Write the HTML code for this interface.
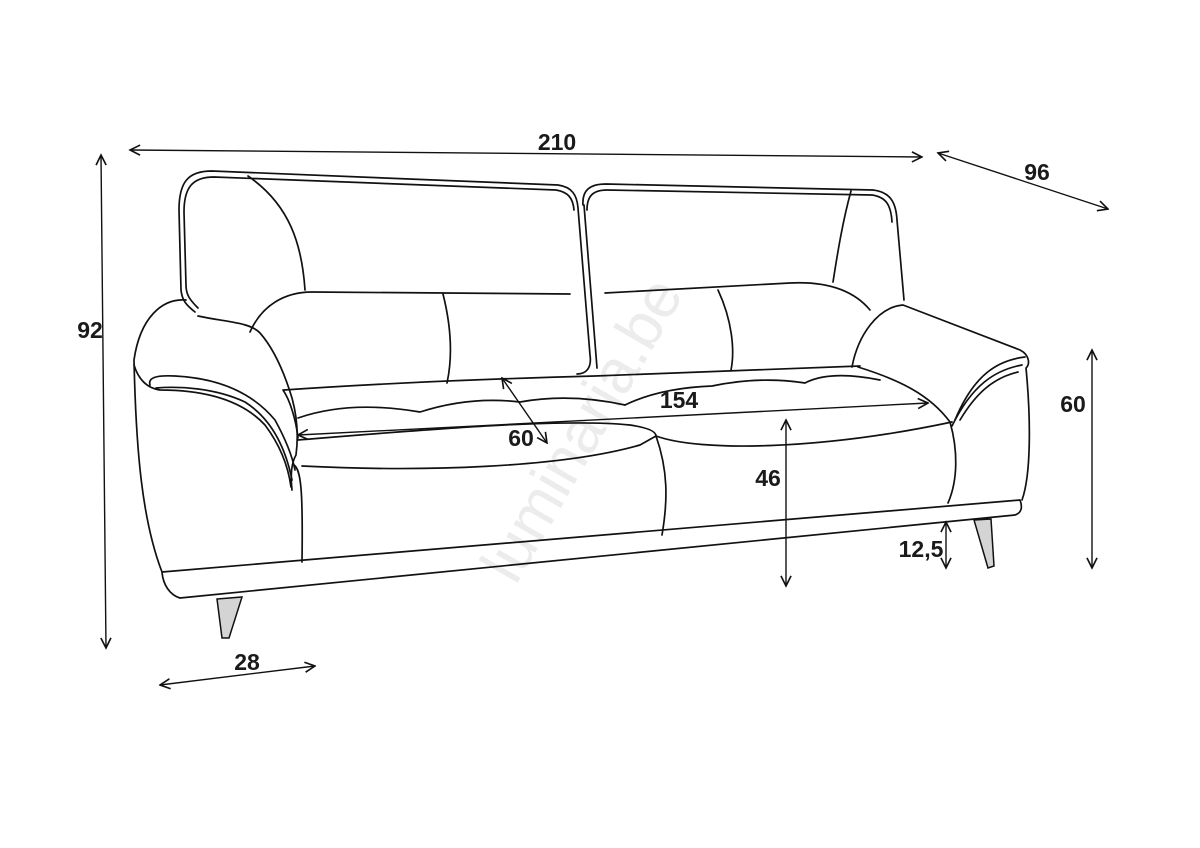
<!DOCTYPE html>
<html><head><meta charset="utf-8"><style>
html,body{margin:0;padding:0;background:#fff;}
svg{display:block}
text{font-family:"Liberation Sans",Arial,sans-serif;font-weight:bold;fill:#1a1a1a}
</style></head><body>
<svg width="1200" height="848" viewBox="0 0 1200 848" xmlns="http://www.w3.org/2000/svg">
<defs>
<marker id="a" viewBox="0 0 10 10" refX="9" refY="5" markerWidth="9" markerHeight="9" orient="auto-start-reverse">
<path d="M1,1 L9,5 L1,9" fill="none" stroke="#111" stroke-width="1.3"/></marker>
</defs>
<text x="600" y="440" transform="rotate(-60 600 440)" font-size="62" text-anchor="middle" style="fill:#ececec;font-weight:normal">luminaria.be</text>
<g fill="none" stroke="#111" stroke-width="1.7" stroke-linejoin="round" stroke-linecap="round">
<path d="M195,312 C186,305 182,300 181,290 L179,210 C179,182 188,171 212,171 L558,185 C572,187 577,195 578,208 L590,355 C592,368 586,374 577,374"/>
<path d="M198,308 C190,300 186,295 186,285 L184,212 C184,188 192,177 214,177 L556,190 C568,192 573,198 574,210"/>
<path d="M248,176 C290,205 302,245 305,290"/>
<path d="M250,332 C262,305 285,292 312,292 L570,294"/>
<path d="M443,294 C452,330 452,360 447,383"/>
<path d="M583,205 C582,190 590,184 606,184 L873,190 C890,192 896,202 897,220 L904,300"/>
<path d="M587,210 C587,196 593,190 607,190 L872,195 C886,197 891,205 892,222"/>
<path d="M584,205 L597,368"/>
<path d="M851,191 C843,220 838,250 833,282"/>
<path d="M605,293 L790,283 C830,281 855,292 870,310"/>
<path d="M718,290 C732,320 735,350 731,370"/>
<path d="M186,300 C162,298 140,318 134,360 C136,450 142,520 162,572"/>
<path d="M198,316 C225,322 250,322 260,333 C275,350 285,375 292,398 C298,420 298,440 296,455 C292,462 290,472 292,490"/>
<path d="M134,365 C138,378 146,388 160,390 C200,390 240,398 265,425 C280,445 288,465 291,487"/>
<path d="M150,385 C148,378 155,375 175,376 C215,378 250,390 275,420 C286,440 292,455 295,470"/>
<path d="M156,388 C180,386 215,388 245,402 C270,418 285,445 292,480"/>
<path d="M294,465 C301,470 303,490 302,562"/>
<path d="M852,367 C858,335 878,307 903,305 L1020,350 C1030,355 1030,365 1026,368 C1031,420 1031,475 1022,500"/>
<path d="M1025,357 C1000,360 975,372 955,420"/>
<path d="M1022,365 C995,370 972,385 952,426"/>
<path d="M1018,372 C992,378 975,395 960,420"/>
<path d="M284,390 C400,382 520,378 595,376 L860,366"/>
<path d="M283,390 C290,400 296,420 298,438"/>
<path d="M858,367 C900,380 930,395 950,422"/>
<path d="M298,418 Q350,400 420,412 Q470,396 520,402 Q570,393 625,405"/>
<path d="M625,405 Q660,388 712,386 Q760,376 805,383 Q830,370 880,380"/>
<path d="M298,440 C420,430 560,418 630,425 C650,428 656,432 656,436"/>
<path d="M656,436 C700,452 820,450 952,422"/>
<path d="M302,466 C420,472 560,468 640,445 L656,436"/>
<path d="M656,436 C668,470 668,500 662,535"/>
<path d="M950,422 C958,450 958,480 948,503"/>
<path d="M162,572 L1020,500 C1023,508 1021,513 1015,515 L180,598 C170,595 163,585 162,572"/>
</g>
<path d="M217,599 L242,597 L229,638 L222,638 Z" fill="#d4d4d4" stroke="#111" stroke-width="1.5"/>
<path d="M974,520 L991,519 L994,566 L988,568 Z" fill="#d4d4d4" stroke="#111" stroke-width="1.5"/>
<g stroke="#111" stroke-width="1.4" fill="none" marker-start="url(#a)" marker-end="url(#a)">
<line x1="130" y1="150" x2="922" y2="157"/>
<line x1="938" y1="153" x2="1108" y2="209"/>
<line x1="101" y1="155" x2="106" y2="648"/>
<line x1="1092" y1="350" x2="1092" y2="568"/>
<line x1="946" y1="522" x2="946" y2="568"/>
<line x1="786" y1="420" x2="786" y2="586"/>
<line x1="298" y1="435" x2="928" y2="403"/>
<line x1="502" y1="378" x2="547" y2="443"/>
<line x1="160" y1="685" x2="315" y2="666"/>
</g>
<g font-size="23">
<text x="557" y="150" text-anchor="middle">210</text>
<text x="1037" y="180" text-anchor="middle">96</text>
<text x="90" y="338" text-anchor="middle">92</text>
<text x="1073" y="412" text-anchor="middle">60</text>
<text x="921" y="557" text-anchor="middle">12,5</text>
<text x="768" y="486" text-anchor="middle">46</text>
<text x="679" y="408" text-anchor="middle">154</text>
<text x="521" y="446" text-anchor="middle">60</text>
<text x="247" y="670" text-anchor="middle">28</text>
</g>
</svg>
</body></html>
